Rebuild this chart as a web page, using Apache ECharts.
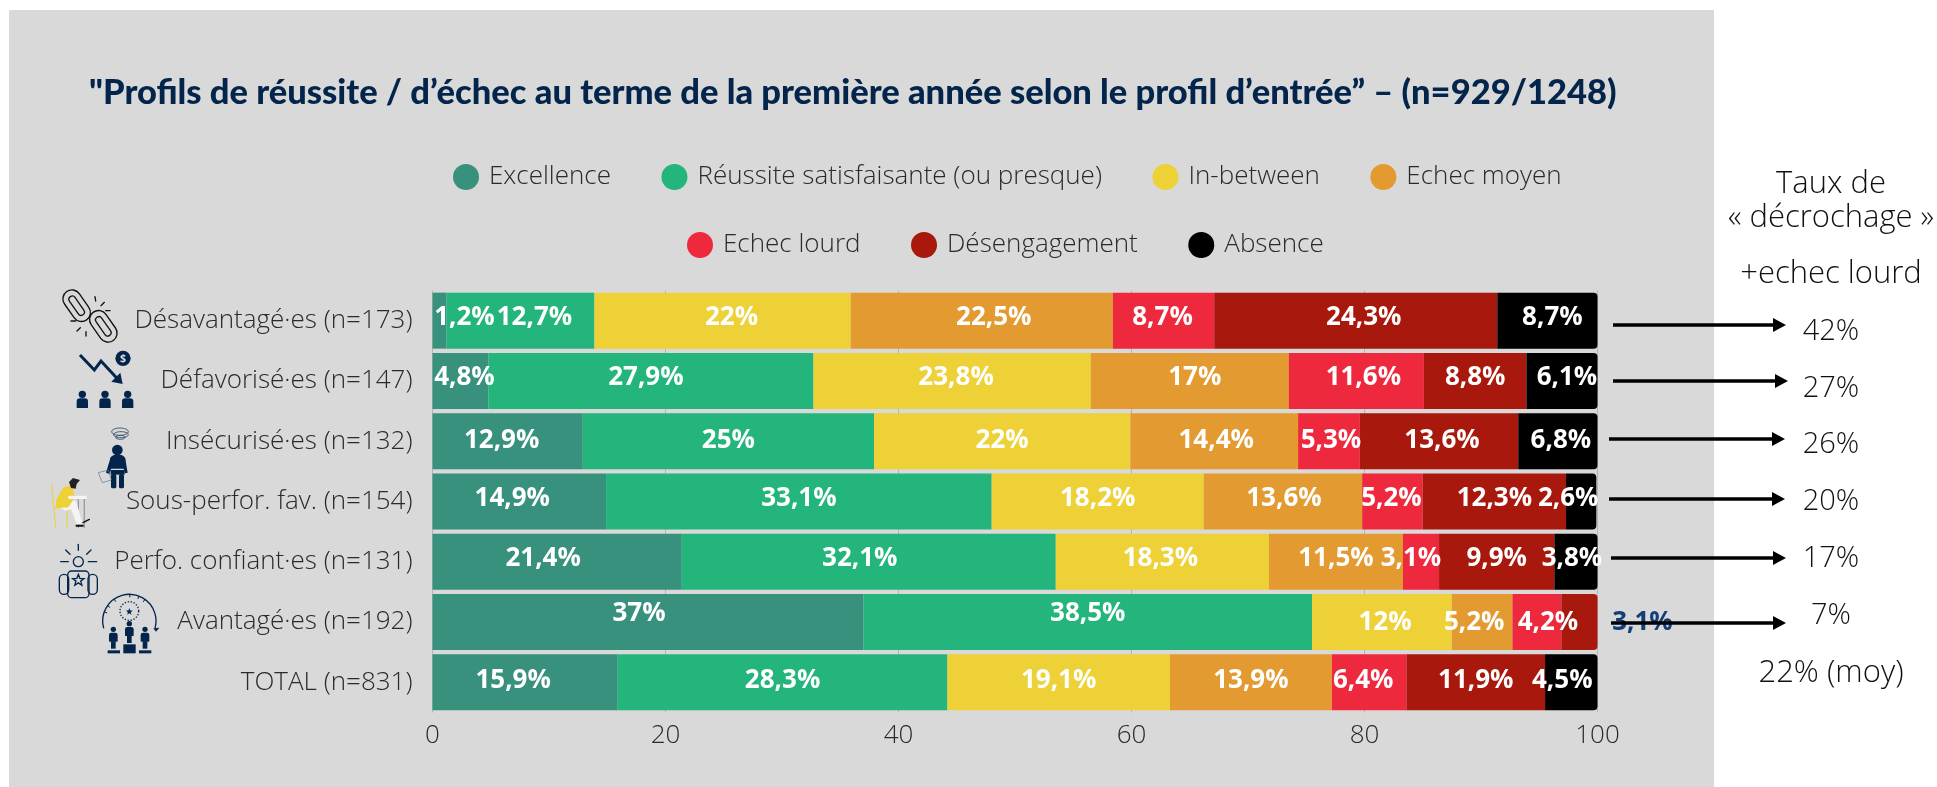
<!DOCTYPE html>
<html>
<head>
<meta charset="utf-8">
<title>Profils de réussite</title>
<script src="https://cdn.jsdelivr.net/npm/echarts@6/dist/echarts.min.js"></script>
<style>
  html, body { margin: 0; padding: 0; background: #fff; }
  #container { width: 1937px; height: 787px; }
</style>
</head>
<body>
<div id="container"></div>
<script>
// data
var categories = ['Désavantagé·es (n=173)', 'Défavorisé·es (n=147)', 'Insécurisé·es (n=132)', 'Sous-perfor. fav. (n=154)', 'Perfo. confiant·es (n=131)', 'Avantagé·es (n=192)', 'TOTAL (n=831)'];
var excellence = [1.2, 4.8, 12.9, 14.9, 21.4, 37, 15.9];
var reussite = [12.7, 27.9, 25, 33.1, 32.1, 38.5, 28.3];
var inBetween = [22, 23.8, 22, 18.2, 18.3, 12, 19.1];
var echecMoyen = [22.5, 17, 14.4, 13.6, 11.5, 5.2, 13.9];
var echecLourd = [8.7, 11.6, 5.3, 5.2, 3.1, 4.2, 6.4];
var desengagement = [24.3, 8.8, 13.6, 12.3, 9.9, 3.1, 11.9];
var absence = [8.7, 6.1, 6.8, 2.6, 3.8, null, 4.5];
var tauxLabels = ['42%', '27%', '26%', '20%', '17%', '7%', '22% (moy)'];

var seriesNames = ['Excellence', 'Réussite satisfaisante (ou presque)', 'In-between', 'Echec moyen', 'Echec lourd', 'Désengagement', 'Absence'];
var seriesValues = [excellence, reussite, inBetween, echecMoyen, echecLourd, desengagement, absence];
var seriesColors = ['#38917d', '#23b57c', '#edd136', '#e39b31', '#ee293d', '#a8180c', '#000000'];

// the labels in the original were placed by hand, these are the nudges (px)
var labelDx = [
  [25, 4, -6, -7, -14, -9, -12],
  [14, -5, 0, 0, -9, 0, 0],
  [9, 4, 0, 0, -2, 3, 0],
  [12, 5, 2, 1, 0, -8, 0],
  [-1, 7, 2, -1, -10, 11, -6],
  [8, 0, 3, 0, 0, 63, 0],
  [5, 5, 3, -13, -4, 0, -9]
];
var rowDy = [-3, -3, -1, -3, -3, 1, -2];

var navy = '#03254c';
var lightFont = '"Open Sans"';
var textCol = '#2a2a2a';

function pct(params) {
  return String(params.value).replace('.', ',') + '%';
}

var series = seriesNames.map(function (name, s) {
  return {
    name: name,
    type: 'bar',
    stack: 'total',
    barWidth: 56,
    itemStyle: { color: seriesColors[s] },
    label: {
      show: true,
      position: 'inside',
      color: '#fff',
      fontFamily: 'Open Sans',
      fontWeight: 700,
      fontSize: 26,
      formatter: pct
    },
    data: seriesValues[s].map(function (v, row) {
      var last = s === 6 ? v !== null : (s === 5 && absence[row] === null);
      var dy = rowDy[row];
      if (row === 5 && s < 2) dy = -8;
      var item = { value: v, label: { offset: [labelDx[s][row], dy] } };
      if (last) item.itemStyle = { borderRadius: [0, 4, 4, 0] };
      // 3,1% sits outside of the bar
      if (row === 5 && s === 5) item.label.color = '#123f78';
      return item;
    })
  };
});

var option = {
  animation: false,
  textStyle: { fontFamily: lightFont },
  title: {
    text: '"Profils de réussite / d’échec au terme de la première année selon le profil d’entrée” – (n=929/1248)',
    left: 84,
    top: 70,
    textStyle: { fontFamily: 'Lato', fontWeight: 900, fontSize: 34.5, color: navy }
  },
  legend: [
    {
      data: seriesNames.slice(0, 4),
      left: 448, top: 159,
      icon: 'circle', itemWidth: 26, itemHeight: 26, itemGap: 50.5,
      textStyle: { fontFamily: lightFont, fontWeight: 300, fontSize: 26, color: textCol, padding: [0, 0, 0, 5] }
    },
    {
      data: seriesNames.slice(4),
      left: 682, top: 227,
      icon: 'circle', itemWidth: 26, itemHeight: 26, itemGap: 50.5,
      textStyle: { fontFamily: lightFont, fontWeight: 300, fontSize: 26, color: textCol, padding: [0, 0, 0, 5] }
    }
  ],
  grid: { left: 432.5, top: 290.5, width: 1165, height: 422 },
  xAxis: {
    type: 'value', min: 0, max: 100, interval: 20,
    axisLine: { show: false },
    axisTick: { show: false },
    axisLabel: { fontFamily: lightFont, fontWeight: 300, fontSize: 26, color: textCol, margin: 10 },
    splitLine: { lineStyle: { color: '#b5b5b5', width: 1 } }
  },
  yAxis: {
    type: 'category', inverse: true, data: categories,
    axisLine: { show: false },
    axisTick: { show: false },
    axisLabel: { fontFamily: lightFont, fontWeight: 300, fontSize: 26, color: textCol, margin: 20 }
  },
  series: series
};

var myChart = echarts.init(document.getElementById('container'));
myChart.setOption(option);

// grey panel + right hand column
var els = [
  { type: 'rect', silent: true, z: -10, shape: { x: 9, y: 10, width: 1705, height: 777 }, style: { fill: '#d9d9d9' } }
];
function sideText(txt, x, y, size) {
  els.push({ type: 'text', x: x, y: y, z: 20, style: { text: txt, x: 0, y: 0, align: 'center', verticalAlign: 'middle', fontFamily: lightFont, fontWeight: 300, fontSize: size, fill: '#111' } });
}
sideText('Taux de', 1831, 184, 31);
sideText('« décrochage »', 1831, 218, 31);
sideText('+echec lourd', 1831, 274, 31);
var tauxY = [332, 389, 445, 502, 559, 616, 673];
tauxLabels.forEach(function (t, i) { sideText(t, 1831, tauxY[i], i === 6 ? 31 : 29); });

var arrows = [[1613, 1786, 325], [1613, 1788, 381], [1609, 1785, 439], [1609, 1785, 499], [1611, 1786, 558], [1611, 1786, 623]];
arrows.forEach(function (a) {
  els.push({ type: 'line', z: 20, shape: { x1: a[0], y1: a[2], x2: a[1] - 10, y2: a[2] }, style: { stroke: '#000', lineWidth: 3.5 } });
  els.push({ type: 'polygon', z: 20, shape: { points: [[a[1] - 13, a[2] - 7], [a[1], a[2]], [a[1] - 13, a[2] + 7]] }, style: { fill: '#000' } });
});

// little pictograms next to the category names, drawn at 3x inside a scaled group
function starPts(cx, cy, r) {
  var pts = [];
  for (var i = 0; i < 10; i++) {
    var rr = i % 2 ? r * 0.42 : r;
    var a = -Math.PI / 2 + i * Math.PI / 5;
    pts.push([cx + rr * Math.cos(a), cy + rr * Math.sin(a)]);
  }
  return pts;
}
function seg(x1, y1, x2, y2, col, w) {
  return { type: 'line', shape: { x1: x1, y1: y1, x2: x2, y2: y2 }, style: { stroke: col, lineWidth: w, lineCap: 'round' } };
}
function box(x, y, w, h, r, fill) {
  return { type: 'rect', shape: { x: x, y: y, width: w, height: h, r: r }, style: { fill: fill } };
}
function dot(cx, cy, r, fill) {
  return { type: 'circle', shape: { cx: cx, cy: cy, r: r }, style: { fill: fill } };
}
function poly(pts, fill) {
  return { type: 'polygon', shape: { points: pts }, style: { fill: fill } };
}
function link(cx, cy, deg) {
  var line = { fill: 'none', stroke: '#111', lineWidth: 4 };
  return {
    type: 'group', x: cx, y: cy, rotation: deg * Math.PI / 180,
    children: [
      { type: 'rect', shape: { x: -52, y: -27, width: 104, height: 54, r: 27 }, style: line },
      { type: 'rect', shape: { x: -33, y: -10, width: 66, height: 20, r: 10 }, style: line }
    ]
  };
}
function person(x, y) {
  return [
    dot(x, y, 8, navy),
    box(x - 13, y + 10, 26, 27, [7, 7, 2, 2], navy),
    box(x - 7, y + 36, 14, 22, 0, navy)
  ];
}

var chainKids = [link(95, 62, -55), link(175, 124, -55)];
[[150, 35, 152, 48], [178, 52, 168, 62], [182, 77, 195, 77], [78, 108, 92, 108], [106, 128, 96, 138], [123, 140, 123, 153]].forEach(function (p) {
  chainKids.push(seg(p[0], p[1], p[2], p[3], '#111', 4));
});

var moneyKids = [
  { type: 'polyline', shape: { points: [[105, 210], [148, 255], [168, 228], [218, 282]] }, style: { fill: 'none', stroke: navy, lineWidth: 9 } },
  poly([[233, 297], [199, 290], [226, 263]], navy),
  dot(234, 220, 23, navy),
  { type: 'text', style: { text: '$', x: 234, y: 221, align: 'center', verticalAlign: 'middle', fontFamily: 'Open Sans', fontWeight: 700, fontSize: 32, fill: '#d9d9d9' } }
];
[112, 180, 248].forEach(function (x) {
  moneyKids.push(dot(x, 328, 11, navy));
  moneyKids.push(box(x - 17, 340, 34, 29, [10, 10, 0, 0], navy));
});

var worriedKids = [
  { type: 'ellipse', shape: { cx: 225, cy: 35, rx: 25, ry: 11 }, style: { fill: 'none', stroke: '#3f5a73', lineWidth: 3 } },
  { type: 'ellipse', shape: { cx: 228, cy: 44, rx: 22, ry: 9 }, style: { fill: 'none', stroke: '#3f5a73', lineWidth: 3 } },
  { type: 'ellipse', shape: { cx: 226, cy: 52, rx: 14, ry: 6 }, style: { fill: 'none', stroke: '#3f5a73', lineWidth: 3 } },
  dot(217, 90, 16, navy),
  box(195, 104, 46, 42, [16, 16, 2, 2], navy),
  poly([[197, 112], [183, 158], [193, 162], [206, 125]], navy),
  poly([[240, 112], [248, 158], [240, 160], [230, 125]], navy),
  box(197, 150, 42, 14, 0, navy),
  box(198, 162, 16, 43, 5, navy),
  box(222, 162, 15, 43, 5, navy),
  poly([[160, 158], [190, 150], [199, 180], [172, 188]], 'none')
];
worriedKids[worriedKids.length - 1].style = { fill: 'none', stroke: '#5d7488', lineWidth: 2 };

var seatedKids = [
  seg(20, 195, 32, 322, '#edd136', 3),
  seg(30, 262, 68, 262, '#edd136', 5),
  seg(66, 262, 66, 322, '#edd136', 3),
  seg(100, 238, 100, 322, '#9a9a9a', 4),
  seg(118, 238, 118, 322, '#9a9a9a', 4),
  poly([[46, 262], [78, 238], [94, 245], [112, 310], [96, 314], [78, 268], [60, 272]], '#f4f4f4'),
  poly([[33, 240], [55, 202], [80, 196], [90, 232], [70, 262], [33, 264]], '#edd136'),
  box(70, 227, 55, 10, 1, '#f4f4f4'),
  poly([[72, 186], [84, 174], [105, 180], [95, 192], [92, 206], [78, 204]], '#222'),
  box(92, 314, 24, 6, 1, '#111'),
  seg(114, 308, 133, 298, '#111', 4)
];

var sunLine = { fill: 'none', stroke: navy, lineWidth: 4 };
var confidentKids = [
  { type: 'circle', shape: { cx: 100, cy: 80, r: 15 }, style: sunLine },
  seg(100, 28, 100, 46, navy, 4), seg(62, 45, 75, 58, navy, 4), seg(138, 45, 125, 58, navy, 4),
  seg(47, 80, 70, 80, navy, 4), seg(130, 80, 155, 80, navy, 4),
  { type: 'rect', shape: { x: 68, y: 108, width: 64, height: 80, r: 12 }, style: sunLine },
  { type: 'rect', shape: { x: 43, y: 118, width: 28, height: 60, r: 14 }, style: sunLine },
  { type: 'rect', shape: { x: 129, y: 118, width: 28, height: 60, r: 14 }, style: sunLine },
  { type: 'polygon', shape: { points: starPts(100, 136, 18) }, style: sunLine }
];

var podiumKids = [
  { type: 'arc', shape: { cx: 253, cy: 258, r: 80, startAngle: 164 * Math.PI / 180, endAngle: 375 * Math.PI / 180, clockwise: true }, style: { fill: 'none', stroke: navy, lineWidth: 4 } },
  { type: 'circle', shape: { cx: 253, cy: 228, r: 28 }, style: { fill: 'none', stroke: navy, lineWidth: 4, lineDash: [4, 5] } },
  poly(starPts(253, 230, 11), navy),
  poly([[325, 280], [343, 278], [333, 290]], navy),
  box(235, 328, 37, 27, 0, navy), box(188, 346, 37, 9, 0, navy), box(282, 346, 37, 9, 0, navy)
];
[200, 215, 235, 271, 291, 306].forEach(function (deg) {
  var a = deg * Math.PI / 180;
  podiumKids.push(seg(253 + 72 * Math.cos(a), 258 + 72 * Math.sin(a), 253 + 80 * Math.cos(a), 258 + 80 * Math.sin(a), navy, 3));
});
podiumKids = podiumKids.concat(person(253, 266), person(205, 283), person(300, 283));

function iconGroup(x, y, kids) {
  els.push({ type: 'group', x: x, y: y, scaleX: 1 / 3, scaleY: 1 / 3, z: 15, silent: true, children: kids });
}
iconGroup(45, 285, chainKids.concat(moneyKids));
iconGroup(45, 420, worriedKids.concat(seatedKids));
iconGroup(45, 535, confidentKids.concat(podiumKids));

myChart.setOption({ graphic: { elements: els } });
</script>
</body>
</html>
